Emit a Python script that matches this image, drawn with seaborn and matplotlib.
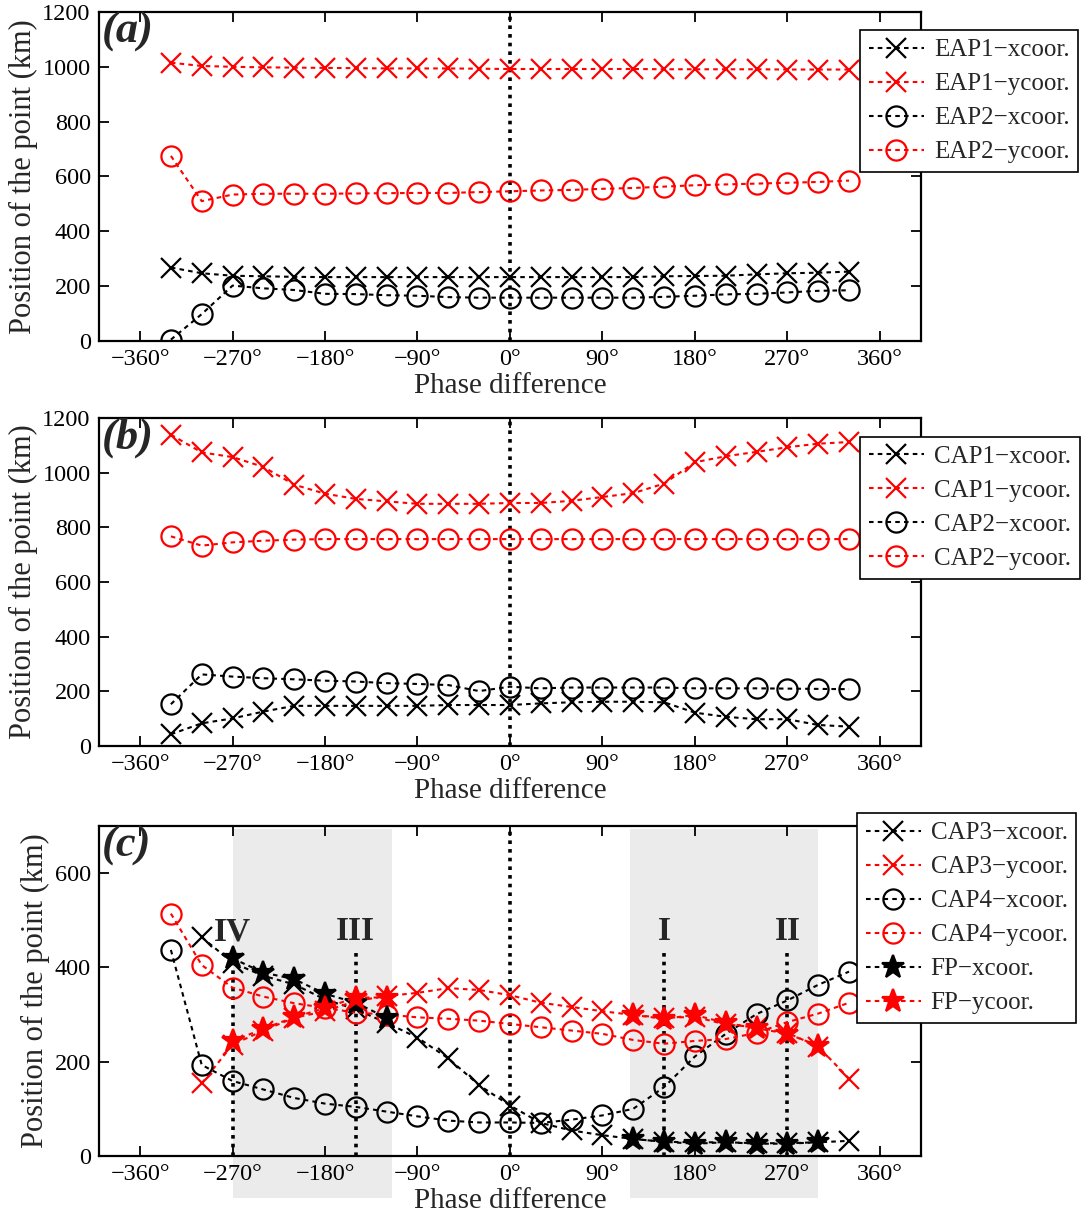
import matplotlib
matplotlib.use("Agg")
import matplotlib.pyplot as plt
from matplotlib.patches import Rectangle
import seaborn as sns

# ---------------- data ----------------
phase = [-330, -300, -270, -240, -210, -180, -150, -120, -90, -60, -30, 0,
         30, 60, 90, 120, 150, 180, 210, 240, 270, 300, 330]

# panel (a)
eap1_x = [268, 247, 238, 236, 234, 233, 233, 233, 233, 233, 233, 233,
          233, 233, 233, 233, 236, 237, 238, 243, 247, 249, 253]
eap1_y = [1015, 1003, 1000, 998, 997, 996, 995, 994, 994, 994, 993, 992,
          992, 992, 992, 992, 991, 991, 991, 991, 990, 990, 990]
eap2_x = [5, 98, 202, 192, 186, 172, 171, 167, 165, 160, 158, 158,
          158, 158, 158, 158, 161, 165, 170, 172, 177, 183, 185]
eap2_y = [675, 510, 534, 537, 537, 537, 538, 539, 540, 540, 543, 546,
          549, 551, 555, 558, 563, 568, 571, 574, 577, 580, 585]

# panel (b)
cap1_x = [43, 83, 101, 126, 147, 147, 147, 147, 147, 150, 150, 150,
          156, 160, 162, 162, 160, 122, 107, 98, 98, 77, 71]
cap1_y = [1139, 1074, 1057, 1021, 956, 923, 904, 895, 886, 886, 886, 889,
          889, 897, 911, 925, 960, 1038, 1060, 1076, 1093, 1106, 1112]
cap2_x = [153, 262, 254, 248, 244, 239, 236, 230, 227, 223, 201, 217,
          211, 214, 214, 214, 214, 211, 211, 211, 210, 209, 208]
cap2_y = [767, 733, 745, 751, 755, 757, 757, 757, 757, 757, 757, 757,
          757, 757, 757, 757, 757, 757, 757, 757, 757, 757, 757]

# panel (c)
phase3 = [-300, -270, -240, -210, -180, -150, -120, -90, -60, -30, 0,
          30, 60, 90, 120, 150, 180, 210, 240, 270, 300, 330]
cap3_x = [464, 410, 382, 364, 332, 311, 282, 251, 207, 150, 107,
          70, 54, 44, 36, 30, 29, 29, 27, 27, 29, 32]
cap3_y = [154, 236, 266, 293, 307, 329, 339, 346, 356, 352, 341,
          325, 316, 307, 299, 293, 295, 279, 273, 261, 232, 164]
cap4_x = [437, 193, 159, 141, 123, 111, 104, 94, 84, 75, 71, 71,
          70, 77, 86, 100, 146, 211, 259, 301, 330, 363, 391]
cap4_y = [514, 405, 357, 338, 324, 314, 304, 300, 294, 291, 287, 280,
          273, 266, 259, 246, 238, 244, 248, 261, 284, 302, 325]
fp_phase_left = [-270, -240, -210, -180, -150, -120]
fp_phase_right = [120, 150, 180, 210, 240, 270, 300]
fp_x_left = [419, 389, 375, 344, 325, 293]
fp_x_right = [36, 30, 26, 29, 26, 26, 29]
fp_y_left = [243, 270, 294, 314, 336, 336]
fp_y_right = [299, 291, 299, 282, 271, 259, 234]

shaded_regions = [(-270, -115), (117, 300)]
marker_lines = [-270, -150, 150, 270]
roman = ["IV", "III", "I", "II"]

xticks = [-360, -270, -180, -90, 0, 90, 180, 270, 360]
xticklabels = [("\u2212" if v < 0 else "") + f"{abs(v)}\u00b0" for v in xticks]

# ---------------- style ----------------
sns.set_theme(style="ticks")
plt.rcParams["font.family"] = ["Liberation Serif", "DejaVu Serif"]
plt.rcParams["axes.unicode_minus"] = True

RED = "#ff0000"
BLK = "#000000"
LS = (0, (2.2, 2.0))
LW = 1.5
MS = 14.5

fig = plt.figure(figsize=(10.84, 12.2), dpi=100)
L, W = 0.0913, 0.7583
ax_a = fig.add_axes([L, 0.7205, W, 0.2697])
ax_b = fig.add_axes([L, 0.3885, W, 0.2689])
ax_c = fig.add_axes([L, 0.0525, W, 0.2705])


def series(ax, x, y, marker, color, label, ms=MS, fill=False, fc=None):
    kw = dict(marker=marker, color=color, linestyle=LS, linewidth=LW,
              markersize=ms, markeredgecolor=color, markeredgewidth=1.6,
              markerfacecolor=(fc if fill else "none"))
    sns.lineplot(x=x, y=y, ax=ax, errorbar=None, sort=False, legend=False, **kw)
    line = ax.lines[-1]
    line.set_label(label)
    return line


def style_axes(ax, ylim, yticks, tag):
    ax.set_xlim(-400, 400)
    ax.set_ylim(*ylim)
    ax.set_xticks(xticks)
    ax.set_xticklabels(xticklabels)
    ax.set_yticks(yticks)
    ax.set_yticklabels([str(v) for v in yticks])
    ax.tick_params(direction="in", length=7, width=1.3, top=True, right=True,
                   labelsize=17.5, colors="black", pad=6)
    for s in ax.spines.values():
        s.set_linewidth(1.6)
        s.set_color("black")
        s.set_visible(True)
    ax.set_xlabel("Phase difference", fontsize=21, labelpad=2)
    ax.set_ylabel("Position of the point (km)", fontsize=22, labelpad=3)
    ax.axvline(0, color="black", linestyle=(0, (1, 1.4)), linewidth=2.6, zorder=1)
    ax.text(0.004, 1.0, tag, transform=ax.transAxes, ha="left", va="top",
            fontsize=32, fontweight="bold", fontstyle="italic")


def add_legend(ax, handles, anchor):
    leg = ax.legend(handles=handles, loc="upper left", bbox_to_anchor=anchor,
                    borderaxespad=0, fontsize=18, frameon=True, fancybox=False,
                    framealpha=1, edgecolor="black", handlelength=2.2,
                    handletextpad=0.4, labelspacing=0.46, borderpad=0.35,
                    numpoints=1)
    leg.get_frame().set_linewidth(1.2)
    leg.set_zorder(20)


# ---- (a)
h = [series(ax_a, phase, eap1_x, "x", BLK, "EAP1\u2212xcoor."),
     series(ax_a, phase, eap1_y, "x", RED, "EAP1\u2212ycoor."),
     series(ax_a, phase, eap2_x, "o", BLK, "EAP2\u2212xcoor."),
     series(ax_a, phase, eap2_y, "o", RED, "EAP2\u2212ycoor.")]
style_axes(ax_a, (0, 1200), [0, 200, 400, 600, 800, 1000, 1200], "(a)")
add_legend(ax_a, h, (0.926, 0.945))

# ---- (b)
h = [series(ax_b, phase, cap1_x, "x", BLK, "CAP1\u2212xcoor."),
     series(ax_b, phase, cap1_y, "x", RED, "CAP1\u2212ycoor."),
     series(ax_b, phase, cap2_x, "o", BLK, "CAP2\u2212xcoor."),
     series(ax_b, phase, cap2_y, "o", RED, "CAP2\u2212ycoor.")]
style_axes(ax_b, (0, 1200), [0, 200, 400, 600, 800, 1000, 1200], "(b)")
add_legend(ax_b, h, (0.926, 0.942))

# ---- (c)
for x0, x1 in shaded_regions:
    ax_c.add_patch(Rectangle((x0, -0.127), x1 - x0, 1.117,
                             transform=ax_c.get_xaxis_transform(),
                             facecolor="#ebebeb", edgecolor="none",
                             clip_on=False, zorder=0))
for xv in marker_lines:
    ax_c.plot([xv, xv], [0, 430], color="black", linestyle=(0, (1, 1.4)),
              linewidth=2.6, zorder=1)
for xv, lab in zip(marker_lines, roman):
    ax_c.text(xv, 476, lab, ha="center", va="center", fontsize=24,
              fontweight="bold")

h3x = series(ax_c, phase3, cap3_x, "x", BLK, "CAP3\u2212xcoor.")
h3y = series(ax_c, phase3, cap3_y, "x", RED, "CAP3\u2212ycoor.")
h4x = series(ax_c, phase, cap4_x, "o", BLK, "CAP4\u2212xcoor.")
h4y = series(ax_c, phase, cap4_y, "o", RED, "CAP4\u2212ycoor.")
hfx = series(ax_c, fp_phase_left, fp_x_left, "*", BLK, "FP\u2212xcoor.",
             ms=17, fill=True, fc=BLK)
series(ax_c, fp_phase_right, fp_x_right, "*", BLK, "_nolegend_",
       ms=17, fill=True, fc=BLK)
hfy = series(ax_c, fp_phase_left, fp_y_left, "*", RED, "FP\u2212ycoor.",
             ms=17, fill=True, fc=RED)
series(ax_c, fp_phase_right, fp_y_right, "*", RED, "_nolegend_",
       ms=17, fill=True, fc=RED)
style_axes(ax_c, (0, 700), [0, 200, 400, 600], "(c)")
add_legend(ax_c, [h3x, h3y, h4x, h4y, hfx, hfy], (0.922, 1.039))

fig.savefig("out.png", dpi=100)
